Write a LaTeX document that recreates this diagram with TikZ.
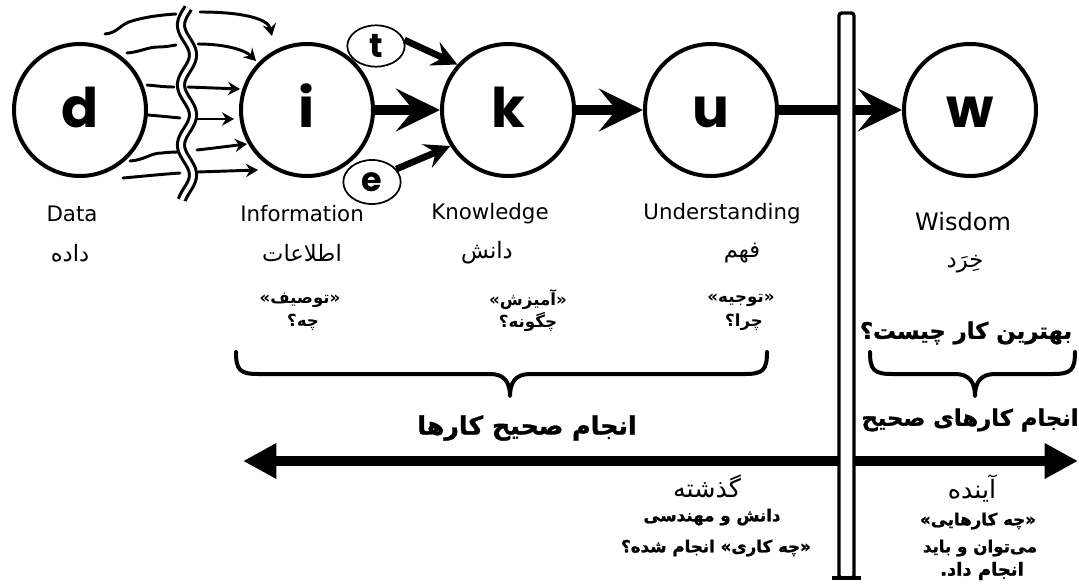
\documentclass[tikz,border=0pt]{standalone}
\usepackage{fontspec}
\setmainfont{DejaVu Sans}
\newfontfamily\fa[Script=Arabic]{DejaVu Sans}
\newfontfamily\fah[Script=Arabic,FakeBold=1.2]{DejaVu Sans Bold}
\newfontfamily\geo{Poppins}
\TeXXeTstate=1
\usetikzlibrary{arrows.meta,shapes.geometric}
\newcommand\myrl[1]{\beginR#1\endR}
\tikzset{
 stage/.style={circle, draw, line width=3pt, minimum size=99pt, inner sep=0pt,
   text height=27pt, text depth=0pt, font=\geo\bfseries\fontsize{41}{41}\selectfont},
 tag/.style={ellipse, draw, line width=1.3pt, inner sep=0pt,
   font=\geo\bfseries\fontsize{25}{25}\selectfont},
 en/.style={font=\fontsize{16}{19}\selectfont, inner sep=0pt},
 fareg/.style={font=\fa\fontsize{17}{20}\selectfont, inner sep=0pt},
 fasm/.style={font=\fa\bfseries\fontsize{12.5}{15}\selectfont, inner sep=0pt},
 fabot/.style={font=\fah\fontsize{12.5}{15}\selectfont, inner sep=0pt},
 fabold/.style={font=\fah\fontsize{17}{20}\selectfont, inner sep=0pt},
 fabig/.style={font=\fah\fontsize{19}{22}\selectfont, inner sep=0pt},
 fatime/.style={font=\fa\fontsize{19}{22}\selectfont, inner sep=0pt},
 flow/.style={line width=7.5pt, -{Stealth[length=33pt,width=32pt,inset=13pt]}},
 side/.style={line width=5pt, -{Stealth[length=19pt,width=19pt,inset=7pt]}},
 squig/.style={line width=2.2pt, line cap=round},
 squiga/.style={squig, -{Stealth[length=9pt,width=10pt,inset=3pt]}},
 timeline/.style={line width=8pt, -{Triangle[length=25pt,width=25pt]}},
 bracket/.style={line width=3pt, line cap=round, line join=round},
}
\begin{document}
\begin{tikzpicture}[x=0.75pt,y=-0.75pt]
\useasboundingbox (0,0) rectangle (1079,588);

% stages
\node[stage] (d) at (80,110) {d};
\node[stage] (i) at (307,110) {i};
\node[stage] (k) at (508,110) {k};
\node[stage] (u) at (711,110) {u};
\node[stage] (w) at (970,110) {w};
\node[tag, minimum width=43pt, minimum height=31pt] (t) at (376,46) {t};
\node[tag, minimum width=43pt, minimum height=33pt] (e) at (372,182) {e};

% main arrows
\draw[flow] (i) -- (k);
\draw[flow] (k) -- (u);
\draw[flow] (u) -- (w);
\draw[side] (t.12) -- (k.138);
\draw[side] (e.28) -- (k.212);

% squiggly data arrows (left parts)
\draw[squig] (105,34) .. controls (118,33) and (120,24) .. (132,21) .. controls (145,17) and (160,15) .. (176,14);
\draw[squig] (127,53) .. controls (140,52) and (148,47) .. (158,47) .. controls (165,47) and (170,46) .. (176,45);
\draw[squig] (147,85) .. controls (158,86) and (165,87) .. (174,87);
\draw[squig] (148,115) .. controls (160,116) and (170,117) .. (180,118);
\draw[squig] (130,161) .. controls (145,160) and (150,153) .. (162,153) .. controls (170,152) and (176,152) .. (182,152);
\draw[squig] (123,178) .. controls (145,176) and (165,174) .. (180,173);
% right parts
\draw[squiga] (200,12) .. controls (240,12) and (268,18) .. (272,36);
\draw[squiga] (198,44) .. controls (225,44) and (245,50) .. (256,61);
\draw[squiga] (188,87) -- (240,89);
\draw[squiga] (195,119) -- (234,119);
\draw[squiga] (197,150) .. controls (215,148) and (230,146) .. (247,144);
\draw[squiga] (198,172) -- (258,170);
% break
\draw[double=white, double distance=3pt, line width=2.3pt]
  plot[domain=8:200, samples=100, smooth] ({187-6*cos((\x-85)*6)}, {\x});

% labels
\node[en] (ld) at (72,214) {Data};
\node[en] (li) at (302,214) {Information};
\node[en] (lk) at (490,214) {Knowledge};
\node[en] (lu) at (722,214) {Understanding};
\node[en, font=\fontsize{18}{21}\selectfont] (lw) at (963,222) {Wisdom};

\node[fareg] (pd) at (70,253) {\myrl{داده}};
\node[fareg] (pi) at (302,253) {\myrl{اطلاعات}};
\node[fareg] (pk) at (487,253) {\myrl{دانش}};
\node[fareg] (pu) at (742,253) {\myrl{فهم}};
\node[fareg] (pw) at (965,264) {\myrl{خِرَد}};

\node[fasm] (qi1) at (300,300) {\myrl{«توصیف»}};
\node[fasm] (qi2) at (303,322) {\myrl{چه؟}};
\node[fasm] (qk1) at (528,300) {\myrl{«آمیزش»}};
\node[fasm] (qk2) at (528,322) {\myrl{چگونه؟}};
\node[fasm] (qu1) at (741,300) {\myrl{«توجیه»}};
\node[fasm] (qu2) at (744,322) {\myrl{چرا؟}};
\node[fabold] (qw) at (966,333) {\myrl{بهترین کار چیست؟}};

% braces
\draw[bracket] (236,352) .. controls (236,370) and (240,374) .. (258,374) -- (490,374)
  .. controls (504,374) and (510,382) .. (510,396)
  .. controls (510,382) and (516,374) .. (530,374) -- (745,374)
  .. controls (763,374) and (767,370) .. (767,352);
\draw[bracket] (870,352) .. controls (870,370) and (874,374) .. (892,374) -- (955,374)
  .. controls (969,374) and (975,382) .. (975,396)
  .. controls (975,382) and (981,374) .. (995,374) -- (1053,374)
  .. controls (1071,374) and (1075,370) .. (1075,352);

\node[fabig] (doright) at (527,428) {\myrl{انجام صحیح کارها}};
\node[fabold] (rightdo) at (970,420) {\myrl{انجام کارهای صحیح}};

% time line
\coordinate (barL) at (839,461);
\coordinate (barR) at (854,461);
\coordinate (pastEnd) at (243,461);
\coordinate (futEnd) at (1078,461);
\draw[timeline] (barL) -- (pastEnd);
\draw[timeline] (barR) -- (futEnd);

% bar
\draw[line width=2.5pt, fill=white, rounded corners=2pt] (839,13) rectangle (854,578);
\draw[line width=3pt] (832,578) -- (861,578);

% bottom texts
\node[fatime] (past) at (707,486) {\myrl{گذشته}};
\node[fabot] (past2) at (712,517) {\myrl{دانش و مهندسی}};
\node[fabot] (past3) at (716,548) {\myrl{«چه کاری» انجام شده؟}};
\node[fatime] (fut) at (972,488) {\myrl{آینده}};
\node[fabot] (fut2) at (978,521) {\myrl{«چه کارهایی»}};
\node[fabot] (fut3) at (980,548) {\myrl{می^^^^200cتوان و باید}};
\node[fabot, font=\fah\fontsize{13.5}{16}\selectfont] (fut4) at (982,571) {\myrl{انجام داد.}};
\end{tikzpicture}
\end{document}
